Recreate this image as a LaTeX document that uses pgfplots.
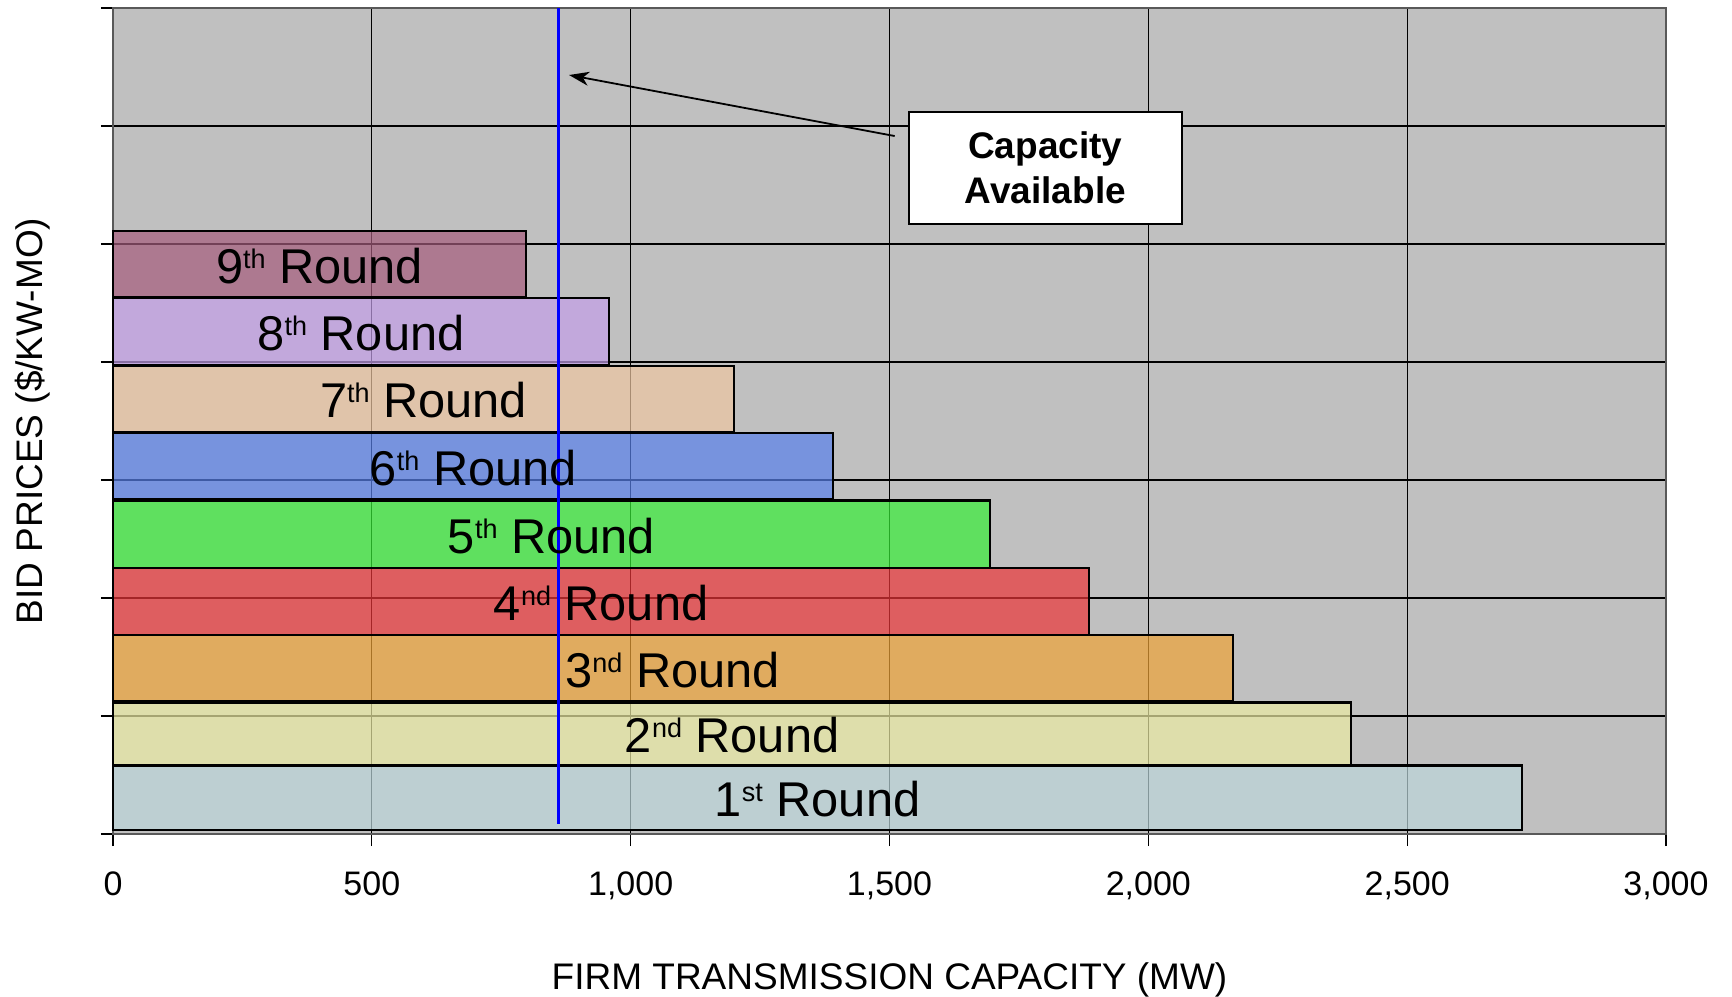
\documentclass[border=0pt]{standalone}
\usepackage{pgfplots}
\pgfplotsset{compat=1.18}
\usepackage{fontspec}
\setmainfont{Liberation Sans}
\usetikzlibrary{arrows.meta,calc}
\definecolor{bg}{RGB}{192,192,192}
\definecolor{c9}{RGB}{165,92,125}
\definecolor{c8}{RGB}{196,159,233}
\definecolor{c7}{RGB}{238,199,161}
\definecolor{c6}{RGB}{89,129,235}
\definecolor{c5}{RGB}{55,238,55}
\definecolor{c4}{RGB}{235,53,56}
\definecolor{c3}{RGB}{238,163,55}
\definecolor{c2}{RGB}{236,235,163}
\definecolor{c1}{RGB}{188,214,218}
\newcommand{\sups}[1]{\raisebox{7.5pt}{\fontsize{13.5}{14}\selectfont #1}}
\begin{document}
\begin{tikzpicture}
\begin{axis}[
  name=ax,
  scale only axis,
  width=776.5pt, height=413pt,
  xmin=0, xmax=3000, ymin=0, ymax=7,
  xtick={0,500,...,3000},
  ytick={0,1,...,7},
  yticklabels={},
  tick pos=left,
  tick align=outside,
  major tick length=6pt,
  tick style={black, line width=0.6pt},
  grid=major,
  grid style={black, line width=0.6pt},
  axis background/.style={fill=bg},
  axis line style={draw=gray!70!black, line width=1pt},
  /pgf/number format/.cd, 1000 sep={,}, assume math mode=true,
  /pgfplots/.cd,
  ticklabel style={font=\fontsize{17}{20}\selectfont},
  xticklabel style={anchor=north, yshift=-9.5pt},
  xlabel={FIRM TRANSMISSION CAPACITY (MW)},
  ylabel={BID PRICES (\$/KW-MO)},
  label style={font=\fontsize{18.5}{22}\selectfont},
  xlabel style={at={(axis description cs:0.5,-0.1770)}, anchor=center},
  ylabel style={at={(axis description cs:-0.0515,0.5)}, anchor=center},
  clip=false,
]
\pgfplotsset{bar/.style={draw=black, line width=1.1pt, fill=#1, fill opacity=0.7}}
\addplot[bar=c1] coordinates {(0,0.037) (2722,0.037) (2722,0.580) (0,0.580)} --cycle;
\addplot[bar=c2] coordinates {(0,0.580) (2392,0.580) (2392,1.114) (0,1.114)} --cycle;
\addplot[bar=c3] coordinates {(0,1.123) (2163,1.123) (2163,1.684) (0,1.684)} --cycle;
\addplot[bar=c4] coordinates {(0,1.684) (1886,1.684) (1886,2.255) (0,2.255)} --cycle;
\addplot[bar=c5] coordinates {(0,2.255) (1694,2.255) (1694,2.826) (0,2.826)} --cycle;
\addplot[bar=c6] coordinates {(0,2.835) (1391,2.835) (1391,3.397) (0,3.397)} --cycle;
\addplot[bar=c7] coordinates {(0,3.406) (1199,3.406) (1199,3.968) (0,3.968)} --cycle;
\addplot[bar=c8] coordinates {(0,3.977) (958,3.977) (958,4.539) (0,4.539)} --cycle;
\addplot[bar=c9] coordinates {(0,4.548) (798,4.548) (798,5.110) (0,5.110)} --cycle;
% capacity available line
\addplot[blue, line width=1.6pt] coordinates {(860,0.085) (860,7)};
% labels
\begin{scope}[every node/.style={font=\fontsize{24.4}{29}\selectfont, inner sep=0pt, anchor=base}]
\node at (axis cs:1361,0.149) {1\sups{st} Round};
\node at (axis cs:1196,0.687) {2\sups{nd} Round};
\node at (axis cs:1081,1.243) {3\sups{nd} Round};
\node at (axis cs:943,1.809) {4\sups{nd} Round};
\node at (axis cs:847,2.380) {5\sups{th} Round};
\node at (axis cs:696,2.956) {6\sups{th} Round};
\node at (axis cs:600,3.527) {7\sups{th} Round};
\node at (axis cs:479,4.098) {8\sups{th} Round};
\node at (axis cs:399,4.669) {9\sups{th} Round};
\end{scope}
\draw[-{Stealth[length=10pt,width=7pt,inset=3pt]}, line width=0.9pt] (axis cs:1510,5.915) -- (axis cs:881,6.432);
\node[draw=black, fill=white, line width=1pt, minimum width=136.5pt, minimum height=56pt, align=center, font=\fontsize{18.5}{22.5}\selectfont\bfseries] at (axis cs:1801,5.644) {Capacity\\Available};
\end{axis}
\pgfresetboundingbox
\path[use as bounding box] ($(ax.south west)+(-56.5pt,-81pt)$) rectangle ($(ax.north east)+(33pt,4pt)$);
\end{tikzpicture}
\end{document}
